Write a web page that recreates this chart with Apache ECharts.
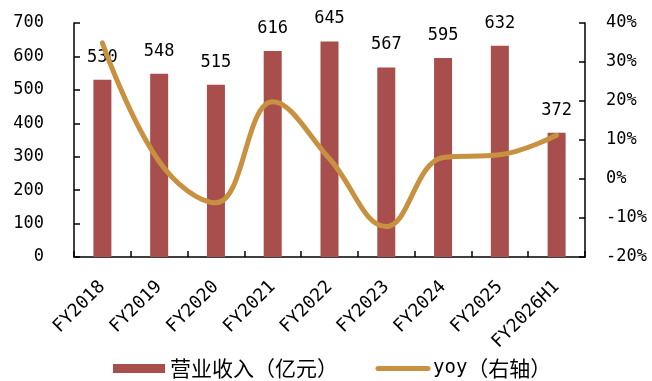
<!DOCTYPE html>
<html>
<head>
<meta charset="utf-8">
<style>
  html, body { margin: 0; padding: 0; background: #fff; }
  #chart { width: 652px; height: 381px; }
</style>
<script src="https://cdn.jsdelivr.net/npm/echarts@6/dist/echarts.min.js"></script>
</head>
<body>
<div id="chart"></div>
<script>
// Revenue (100m CNY) and year-over-year growth by fiscal period
const categories = ['FY2018', 'FY2019', 'FY2020', 'FY2021', 'FY2022', 'FY2023', 'FY2024', 'FY2025', 'FY2026H1'];
const revenue = [530, 548, 515, 616, 645, 567, 595, 632, 372];
const yoy = [34.9, 4.5, -6.1, 19.8, 5.2, -12.2, 5.5, 6.2, 11.2];
const leftTicks = { min: 0, max: 700, interval: 100 };
const rightTicks = { min: -20, max: 40, interval: 10 };

const FONT = '"DejaVu Sans Mono", "Noto Sans CJK SC", monospace';
const CJK_FONT = '"Noto Sans CJK SC", "DejaVu Sans Mono", sans-serif';
const BAR_COLOR = '#A84F4E';
const LINE_COLOR = '#C8913F';

function axisLineStyle() {
  return { show: true, onZero: false, lineStyle: { color: '#000', width: 1.5, type: 'solid', opacity: 1 } };
}
function axisTickStyle() {
  return { show: true, inside: true, length: 6, lineStyle: { color: '#000', width: 1.5, type: 'solid', opacity: 1 } };
}

const legendRich = {
  lat: { fontFamily: FONT, fontSize: 19, color: '#000' },
  cjk: { fontFamily: CJK_FONT, fontSize: 21, color: '#000' }
};

const chart = echarts.init(document.getElementById('chart'), null, { renderer: 'canvas' });

chart.setOption({
  animation: false,
  backgroundColor: '#fff',
  textStyle: { fontFamily: FONT },
  grid: { left: 74, right: 67, top: 23, bottom: 124 },
  legend: [
    {
      left: 113,
      top: 358,
      padding: 0,
      itemWidth: 52,
      itemHeight: 9,
      itemGap: 6,
      formatter: name => '{cjk|' + name + '}',
      textStyle: { fontFamily: CJK_FONT, fontSize: 21, color: '#000', rich: legendRich },
      data: [{ name: '营业收入（亿元）', icon: 'rect' }]
    },
    {
      left: 375.5,
      top: 358,
      padding: 0,
      itemWidth: 50,
      itemHeight: 9,
      formatter: name => '{lat|yoy}{cjk|' + name.slice(3) + '}',
      textStyle: { fontFamily: FONT, fontSize: 19, color: '#000', rich: legendRich },
      data: [{
        name: 'yoy（右轴）',
        itemStyle: { opacity: 0 },
        lineStyle: { width: 5, cap: 'round', color: LINE_COLOR }
      }]
    }
  ],
  xAxis: {
    type: 'category',
    data: categories,
    boundaryGap: true,
    axisLine: axisLineStyle(),
    axisTick: axisTickStyle(),
    axisLabel: { rotate: 45, fontSize: 18, color: '#000', fontFamily: FONT, margin: 27, interval: 0 },
    splitLine: { show: false }
  },
  yAxis: [
    {
      type: 'value',
      position: 'left',
      min: leftTicks.min, max: leftTicks.max, interval: leftTicks.interval,
      axisLine: axisLineStyle(),
      axisTick: axisTickStyle(),
      axisLabel: { fontSize: 17, color: '#000', fontFamily: FONT, margin: 30 },
      splitLine: { show: false }
    },
    {
      type: 'value',
      position: 'right',
      min: rightTicks.min, max: rightTicks.max, interval: rightTicks.interval,
      axisLine: axisLineStyle(),
      axisTick: axisTickStyle(),
      axisLabel: { fontSize: 17, color: '#000', fontFamily: FONT, margin: 21, formatter: v => v + '%' },
      splitLine: { show: false }
    }
  ],
  series: [
    {
      name: '营业收入（亿元）',
      type: 'bar',
      yAxisIndex: 0,
      data: revenue,
      barWidth: 18,
      itemStyle: { color: BAR_COLOR },
      z: 2,
      label: {
        show: true,
        position: 'top',
        distance: 14,
        fontSize: 17,
        color: '#000',
        fontFamily: FONT
      }
    },
    {
      name: 'yoy（右轴）',
      type: 'line',
      yAxisIndex: 1,
      data: yoy,
      smooth: 0.4,
      symbol: 'none',
      z: 5,
      lineStyle: { color: LINE_COLOR, width: 5, cap: 'round' },
      itemStyle: { color: LINE_COLOR }
    }
  ]
});
</script>
</body>
</html>
